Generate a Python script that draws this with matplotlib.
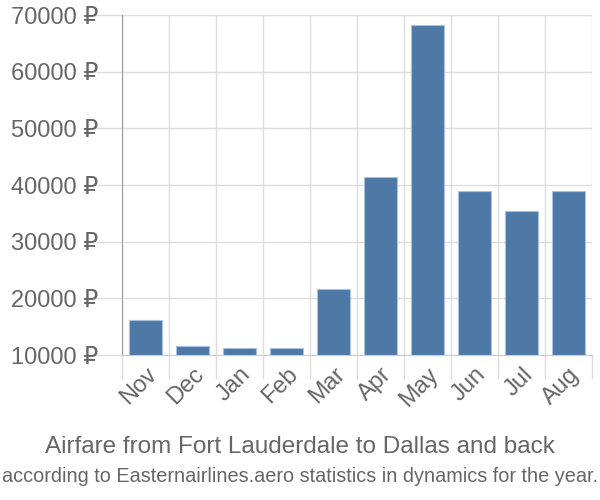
import numpy as np
import matplotlib
matplotlib.use("Agg")
import matplotlib.pyplot as plt

months = ['Nov', 'Dec', 'Jan', 'Feb', 'Mar', 'Apr', 'May', 'Jun', 'Jul', 'Aug']
prices = [16200, 11600, 11200, 11200, 21650, 41400, 68200, 38900, 35400, 38900]
yticks = [10000, 20000, 30000, 40000, 50000, 60000, 70000]

plt.rcParams['font.family'] = ['Liberation Sans', 'DejaVu Sans']

fig = plt.figure(figsize=(6, 5), dpi=100)
ax = fig.add_axes([0.2033, 0.29, 0.7834, 0.68])

x = np.arange(len(months))
base = yticks[0]
ax.bar(x, np.array(prices) - base, bottom=base, width=0.72,
       color='#4e79a7', edgecolor='#a9c1dc', linewidth=0.8, zorder=3)

ax.set_xlim(-0.5, len(months) - 0.5)
ax.set_ylim(yticks[0], yticks[-1])

# grid on slot boundaries, labels at bar centres
ax.set_xticks(x)
ax.set_xticklabels(months, rotation=45, ha='right', rotation_mode='anchor')
ax.set_xticks(np.arange(len(months) + 1) - 0.5, minor=True)
ax.set_yticks(yticks)
ax.set_yticklabels(['%d \u20bd' % v for v in yticks])

ax.tick_params(axis='x', which='major', length=0, pad=6, labelsize=17, labelcolor='#666666')
ax.tick_params(axis='x', which='minor', length=17, width=1, color='#dddddd')
ax.tick_params(axis='y', length=19, width=1, color='#dddddd', labelsize=17,
               labelcolor='#666666', pad=-2)

ax.grid(True, which='minor', axis='x', color='#dddddd', linewidth=1, zorder=0)
ax.grid(True, which='major', axis='y', color='#dddddd', linewidth=1, zorder=0)

for s in ['top', 'right']:
    ax.spines[s].set_visible(False)
ax.spines['left'].set_color('#999999')
ax.spines['bottom'].set_color('#cccccc')

fig.text(0.5, 0.106, 'Airfare from Fort Lauderdale to Dallas and back',
         ha='center', va='center', fontsize=17.5, color='#666666')
fig.text(0.5, 0.048, 'according to Easternairlines.aero statistics in dynamics for the year.',
         ha='center', va='center', fontsize=14.3, color='#666666')

fig.savefig('out.png', dpi=100)
